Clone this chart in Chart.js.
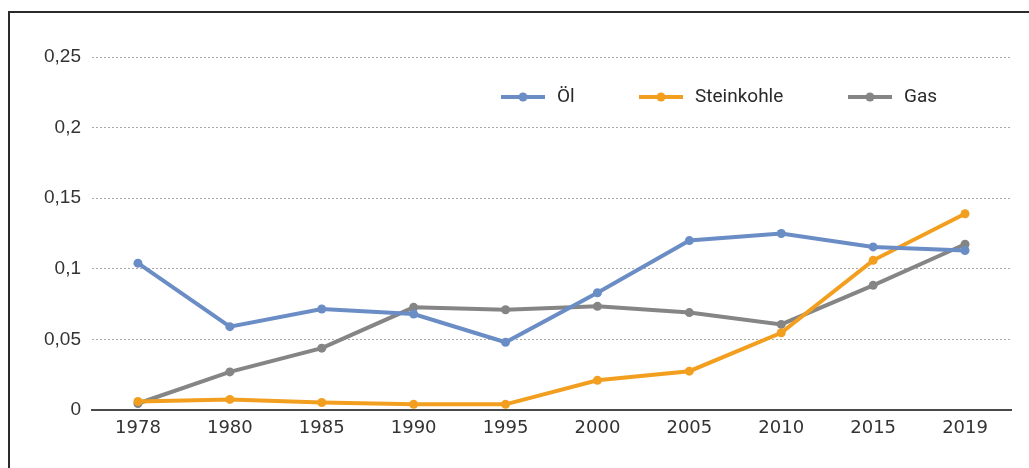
<!DOCTYPE html>
<html>
<head>
<meta charset="utf-8">
<style>
  html, body { margin: 0; padding: 0; background: #fff; }
  #wrap { position: relative; width: 1029px; height: 468px; }
</style>
<script src="https://cdn.jsdelivr.net/npm/chart.js@4/dist/chart.umd.min.js"></script>
</head>
<body>
<div id="wrap"><canvas id="c" width="1029" height="468"></canvas></div>
<script>
// Jahre und Werte je Energieträger
const years = ['1978', '1980', '1985', '1990', '1995', '2000', '2005', '2010', '2015', '2019'];
const oel = [0.104, 0.059, 0.0715, 0.068, 0.048, 0.083, 0.120, 0.125, 0.1155, 0.113];
const steinkohle = [0.006, 0.0075, 0.0053, 0.004, 0.004, 0.021, 0.0275, 0.0547, 0.106, 0.139];
const gas = [0.0046, 0.027, 0.0438, 0.0727, 0.071, 0.0734, 0.069, 0.0606, 0.0883, 0.1174];
const yTicks = [0, 0.05, 0.1, 0.15, 0.2, 0.25];
const seriesNames = ['Öl', 'Steinkohle', 'Gas'];

const colors = ['#6b8dc6', '#f29f1f', '#858585'];

function ds(label, data, color) {
  return {
    label, data,
    borderColor: color, backgroundColor: color,
    borderWidth: 4, pointRadius: 4.5, pointHoverRadius: 4.5,
    pointBorderWidth: 0, tension: 0
  };
}

// Rahmen oben und links
const framePlugin = {
  id: 'frame',
  beforeDraw(chart) {
    const ctx = chart.ctx;
    ctx.save();
    ctx.fillStyle = '#fff';
    ctx.fillRect(0, 0, chart.width, chart.height);
    ctx.strokeStyle = '#2b2b2b';
    ctx.lineWidth = 2;
    ctx.beginPath();
    ctx.moveTo(9, 468);
    ctx.lineTo(9, 12);
    ctx.lineTo(1029, 12);
    ctx.stroke();
    ctx.restore();
  }
};

// Legende: Linie mit Punkt und Name
const legendPlugin = {
  id: 'lineLegend',
  afterDatasetsDraw(chart) {
    const ctx = chart.ctx;
    const centers = [523, 661, 870];
    const y = 97;
    ctx.save();
    chart.data.datasets.forEach((d, i) => {
      const cx = centers[i];
      ctx.strokeStyle = d.borderColor;
      ctx.fillStyle = d.borderColor;
      ctx.lineWidth = 4;
      ctx.beginPath();
      ctx.moveTo(cx - 22, y);
      ctx.lineTo(cx + 22, y);
      ctx.stroke();
      ctx.beginPath();
      ctx.arc(cx, y, 4.5, 0, Math.PI * 2);
      ctx.fill();
      ctx.fillStyle = '#2a2a2a';
      ctx.font = '19px Roboto';
      ctx.textBaseline = 'middle';
      ctx.textAlign = 'left';
      ctx.fillText(d.label, cx + 34, y);
    });
    ctx.restore();
  }
};

new Chart(document.getElementById('c'), {
  type: 'line',
  data: {
    labels: years,
    datasets: [
      ds(seriesNames[0], oel, colors[0]),
      ds(seriesNames[1], steinkohle, colors[1]),
      ds(seriesNames[2], gas, colors[2])
    ]
  },
  options: {
    responsive: false,
    animation: false,
    devicePixelRatio: 1,
    layout: { padding: { top: 57, right: 18, bottom: 18, left: 0 } },
    plugins: { legend: { display: false }, tooltip: { enabled: false } },
    scales: {
      x: {
        offset: true,
        grid: { display: false, drawTicks: false },
        border: { display: true, color: '#4a4a4a', width: 2 },
        ticks: { color: '#333', font: { family: 'DejaVu Sans', size: 18 }, padding: 8, maxRotation: 0 },
        afterFit(s) { s.height = 40; }
      },
      y: {
        min: 0, max: 0.25,
        afterBuildTicks(s) { s.ticks = yTicks.map(v => ({ value: v })); },
        grid: {
          drawTicks: false,
          color: c => (c.tick && c.tick.value === 0) ? 'rgba(0,0,0,0)' : '#a8a8a8',
          lineWidth: 1
        },
        border: { display: false, dash: [2, 2] },
        ticks: {
          color: '#333',
          font: { family: 'Liberation Sans', size: 19 },
          padding: 11,
          callback: v => String(v).replace('.', ',')
        },
        afterFit(s) { s.width = 92; }
      }
    }
  },
  plugins: [framePlugin, legendPlugin]
});
</script>
</body>
</html>
